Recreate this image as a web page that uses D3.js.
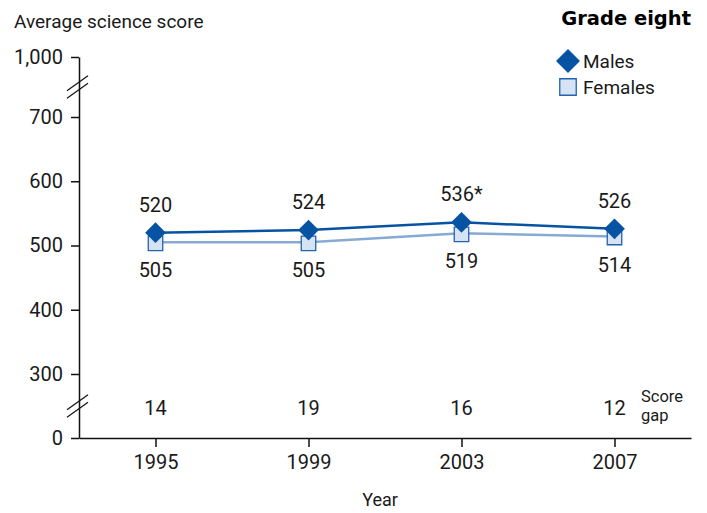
<!DOCTYPE html>
<html>
<head>
<meta charset="utf-8">
<script src="https://cdn.jsdelivr.net/npm/d3@7"></script>
<style>
  body { margin: 0; background: #fff; }
  text { font-family: Roboto, "Noto Sans", sans-serif; fill: #1a1a1a; }
</style>
</head>
<body>
<div id="chart"></div>
<script>
var years = [1995, 1999, 2003, 2007];
var males = [520, 524, 536, 526];
var females = [505, 505, 519, 514];
var maleLabels = ["520", "524", "536*", "526"];
var femaleLabels = ["505", "505", "519", "514"];
var scoreGap = [14, 19, 16, 12];
var gapTitle = ["Score", "gap"];
var yTicks = [0, 300, 400, 500, 600, 700, 1000];

var width = 707,
    height = 513;

var maleColor = "#0753a3",
    femaleLine = "#87aad4",
    femaleFill = "#d6e3f2",
    femaleStroke = "#2462ad";

var x = d3.scaleLinear()
    .domain([1993, 2009])
    .range([79, 691]);

// broken axis: 0 | 300..700 | 1000
var y = d3.scaleLinear()
    .domain([0, 300, 700, 1000])
    .range([438, 374, 117, 57]);

var svg = d3.select("#chart").append("svg")
    .attr("width", width)
    .attr("height", height)

svg.append("text")
    .attr("x", 14)
    .attr("y", 28)
    .style("font-size", "19px")
    .text("Average science score")

svg.append("text")
    .attr("x", 691)
    .attr("y", 25)
    .attr("text-anchor", "end")
    .style("font-family", "'DejaVu Sans', sans-serif")
    .style("font-weight", "bold")
    .style("font-size", "19.5px")
    .style("fill", "#000")
    .text("Grade eight")

// y axis
var yAxis = svg.append("g")
    .attr("transform", "translate(79,0)")
    .call(d3.axisLeft(y)
        .tickValues(yTicks)
        .tickSize(8)
        .tickPadding(8)
        .tickSizeOuter(0)
        .tickFormat(d3.format(",")))

yAxis.selectAll("text")
    .style("font-size", "20px")
    .style("font-family", "Roboto, sans-serif")

// x axis
var xAxis = svg.append("g")
    .attr("transform", "translate(0," + y(0) + ")")
    .call(d3.axisBottom(x)
        .tickValues(years)
        .tickSize(9)
        .tickPadding(8)
        .tickSizeOuter(0)
        .tickFormat(d3.format("d")))

xAxis.selectAll("text")
    .style("font-size", "20px")
    .style("font-family", "Roboto, sans-serif")

svg.selectAll(".domain, .tick line")
    .attr("stroke", "#111")
    .attr("stroke-width", 1.5)

// axis breaks
var breaks = [(y(0) + y(300)) / 2, (y(700) + y(1000)) / 2];
breaks.forEach(function (b) {
    [-3.7, 3.7].forEach(function (off) {
        svg.append("line")
            .attr("x1", 67).attr("y1", b + off + 7.5)
            .attr("x2", 88).attr("y2", b + off - 7.5)
            .attr("stroke", "#111")
            .attr("stroke-width", 1.2)
    })
})

var line = d3.line()
    .x(function (d, i) { return x(years[i]); })
    .y(function (d) { return y(d); });

svg.append("path")
    .datum(females)
    .attr("d", line)
    .attr("fill", "none")
    .attr("stroke", femaleLine)
    .attr("stroke-width", 2.5)

svg.append("path")
    .datum(males)
    .attr("d", line)
    .attr("fill", "none")
    .attr("stroke", maleColor)
    .attr("stroke-width", 2.5)

var square = d3.symbol().type(d3.symbolSquare);

svg.selectAll(".fem")
    .data(females)
    .enter().append("path")
    .attr("class", "fem")
    .attr("d", square.size(210))
    .attr("transform", function (d, i) {
        return "translate(" + x(years[i]) + "," + (y(d) + 1) + ")";
    })
    .attr("fill", femaleFill)
    .attr("stroke", femaleStroke)
    .attr("stroke-width", 1.3)

svg.selectAll(".male")
    .data(males)
    .enter().append("path")
    .attr("class", "male")
    .attr("d", square.size(215))
    .attr("transform", function (d, i) {
        return "translate(" + x(years[i]) + "," + y(d) + ") rotate(45)";
    })
    .attr("fill", maleColor)

svg.selectAll(".mlab")
    .data(males)
    .enter().append("text")
    .attr("class", "mlab")
    .attr("x", function (d, i) { return x(years[i]); })
    .attr("y", function (d) { return y(d) - 21; })
    .attr("text-anchor", "middle")
    .style("font-size", "20px")
    .text(function (d, i) { return maleLabels[i]; })

svg.selectAll(".flab")
    .data(females)
    .enter().append("text")
    .attr("class", "flab")
    .attr("x", function (d, i) { return x(years[i]); })
    .attr("y", function (d) { return y(d) + 35; })
    .attr("text-anchor", "middle")
    .style("font-size", "20px")
    .text(function (d, i) { return femaleLabels[i]; })

svg.selectAll(".gap")
    .data(scoreGap)
    .enter().append("text")
    .attr("class", "gap")
    .attr("x", function (d, i) { return x(years[i]); })
    .attr("y", 415)
    .attr("text-anchor", "middle")
    .style("font-size", "20px")
    .text(function (d) { return d; })

svg.selectAll(".gaptitle")
    .data(gapTitle)
    .enter().append("text")
    .attr("class", "gaptitle")
    .attr("x", 641)
    .attr("y", function (d, i) { return 401.5 + i * 19; })
    .style("font-size", "16.5px")
    .text(function (d) { return d; })

svg.append("text")
    .attr("x", 380)
    .attr("y", 506)
    .attr("text-anchor", "middle")
    .style("font-size", "18px")
    .text("Year")

// legend
var legend = svg.append("g")

legend.append("path")
    .attr("d", square.size(288))
    .attr("transform", "translate(568,61) rotate(45)")
    .attr("fill", maleColor)

legend.append("path")
    .attr("d", square.size(272))
    .attr("transform", "translate(568,87)")
    .attr("fill", femaleFill)
    .attr("stroke", femaleStroke)
    .attr("stroke-width", 1.3)

legend.append("text")
    .attr("x", 583)
    .attr("y", 68)
    .style("font-size", "19px")
    .text("Males")

legend.append("text")
    .attr("x", 583)
    .attr("y", 94)
    .style("font-size", "19px")
    .text("Females")
</script>
</body>
</html>
